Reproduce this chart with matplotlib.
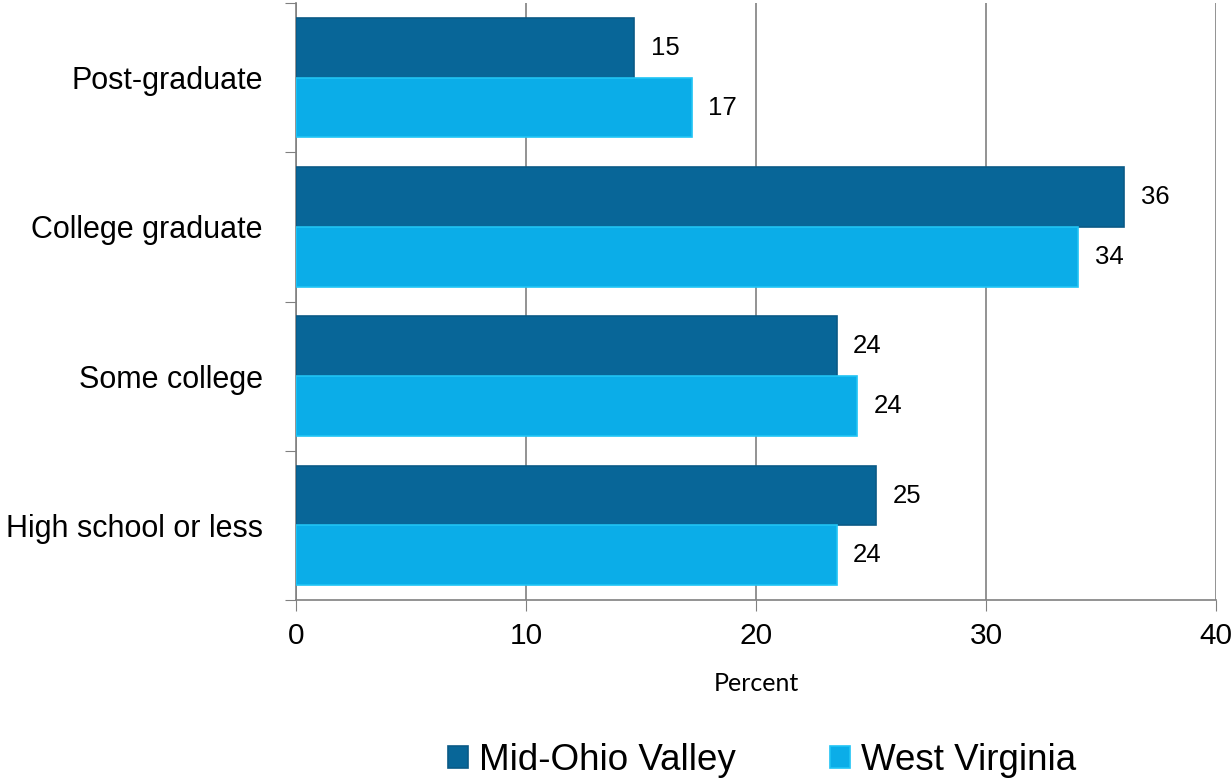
import numpy as np
import matplotlib.pyplot as plt
from matplotlib import font_manager

categories = ["High school or less", "Some college", "College graduate", "Post-graduate"]
mid_ohio = [25.2, 23.5, 36.0, 14.7]
west_va = [23.5, 24.4, 34.0, 17.2]
mid_ohio_labels = ["25", "24", "36", "15"]
west_va_labels = ["24", "24", "34", "17"]
x_ticks = [0, 10, 20, 30, 40]

dark = "#086698"
light = "#0BADE8"

# category labels in the reference are a condensed sans
try:
    font_manager.findfont("Liberation Sans Narrow", fallback_to_default=False)
    cat_font, cat_size = "Liberation Sans Narrow", 26
except Exception:
    cat_font, cat_size = "Liberation Sans", 22

fig = plt.figure(figsize=(12.32, 7.8), dpi=100)
ax = fig.add_axes([0.2403, 0.2308, 0.7467, 0.7652])

y = np.arange(len(categories))
h = 0.4
b1 = ax.barh(y + h / 2, mid_ohio, height=h, color=dark, edgecolor="#0A5A86", linewidth=1.2, zorder=3)
b2 = ax.barh(y - h / 2, west_va, height=h, color=light, edgecolor="#20C4F5", linewidth=1.2, zorder=3)

for bars, labels in [(b1, mid_ohio_labels), (b2, west_va_labels)]:
    for bar, lab in zip(bars, labels):
        ax.annotate(lab, (bar.get_width(), bar.get_y() + bar.get_height() / 2),
                    xytext=(12, 0), textcoords="offset points", va="center", ha="left",
                    fontsize=18.5, family="Liberation Sans")

ax.set_xlim(0, 40)
ax.set_ylim(-0.5, 3.5)
ax.set_xticks(x_ticks)
ax.set_xticklabels([str(t) for t in x_ticks], fontsize=21.5, family="Liberation Sans")
ax.set_yticks(np.arange(-0.5, 4, 1), minor=False)
ax.set_yticklabels([])
ax.set_yticks(y, minor=True)
ax.set_yticklabels(categories, minor=True, fontsize=cat_size, family=cat_font)
ax.tick_params(axis="y", which="minor", length=0, pad=24)
ax.tick_params(axis="y", which="major", length=8, color="#808080")
ax.tick_params(axis="x", length=8, color="#808080", pad=8)

ax.grid(axis="x", color="#808080", linewidth=1.2, zorder=0)
for s in ["top", "right"]:
    ax.spines[s].set_visible(False)
for s in ["left", "bottom"]:
    ax.spines[s].set_color("#808080")
    ax.spines[s].set_linewidth(1.2)

ax.set_xlabel("Percent", fontsize=18, family="Lato", labelpad=16)

fig.legend([b1, b2], ["Mid-Ohio Valley", "West Virginia"], loc="center",
           bbox_to_anchor=(0.6185, 0.025), ncol=2, frameon=False,
           prop={"family": "Liberation Sans", "size": 26.5},
           handlelength=0.55, handleheight=0.55, handletextpad=0.3, columnspacing=2.55)

plt.savefig("out.png", dpi=100)
